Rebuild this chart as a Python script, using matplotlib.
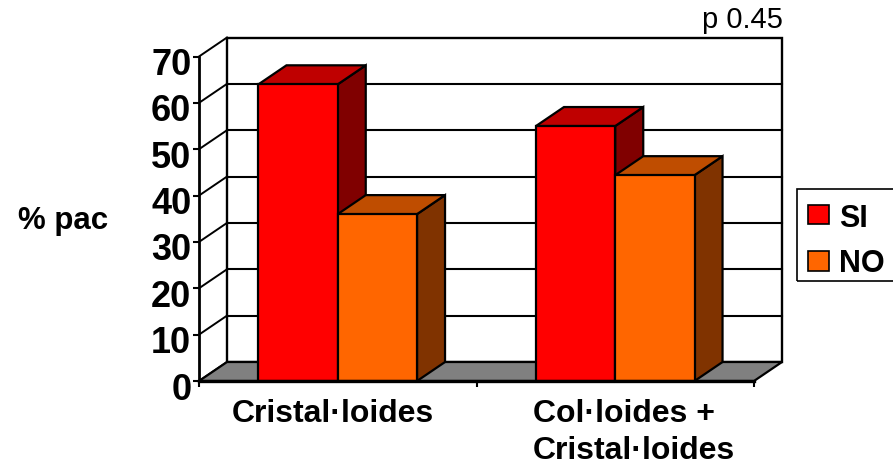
import matplotlib
matplotlib.use('Agg')
import matplotlib.pyplot as plt
from matplotlib.patches import Polygon, Rectangle
from matplotlib.transforms import ScaledTranslation

# ---------------- data ----------------
categories = ['Cristal·loides', 'Col·loides +\nCristal·loides']
series_names = ['SI', 'NO']
si_values = [64, 55]
no_values = [36, 44.4]
y_ticks = [0, 10, 20, 30, 40, 50, 60, 70]
y_label = '% pac'
annotation = 'p 0.45'

# ---------------- style ----------------
front_colors = ['#FF0000', '#FF6600']
top_colors = ['#BF0000', '#BF4D00']
side_colors = ['#800000', '#803300']
floor_color = '#808080'
label_shift_px = [-5, 19]

plt.rcParams['font.family'] = ['Liberation Sans', 'DejaVu Sans']

W, H = 893, 469
fig = plt.figure(figsize=(W / 100, H / 100), dpi=100)


def fx(px):
    return px / W


def fy(py):
    return 1 - py / H


ax = fig.add_axes([fx(199), fy(381), fx(754) - fx(199), fy(56.5) - fy(381)])
ax.set_xlim(0, len(categories))
ax.set_ylim(y_ticks[0], y_ticks[-1])

# depth offset (pixels -> data units)
depth_px_x, depth_px_y = 28, 19
ax_w_px = (fx(754) - fx(199)) * W
ax_h_px = (fy(56.5) - fy(381)) * H
DX = depth_px_x / ax_w_px * len(categories)
DY = depth_px_y / ax_h_px * (y_ticks[-1] - y_ticks[0])
ymax = y_ticks[-1]
ncat = len(categories)

# back wall
ax.add_patch(Rectangle((DX, DY), ncat, ymax, fc='white', ec='black', lw=1.7,
                       zorder=1, clip_on=False))
for v in y_ticks[1:-1]:
    ax.plot([DX, ncat + DX], [v + DY, v + DY], color='black', lw=1.5,
            zorder=2, clip_on=False)
# left wall diagonals
for v in y_ticks:
    ax.plot([0, DX], [v, v + DY], color='black', lw=1.4, zorder=2, clip_on=False)

# floor
ax.add_patch(Polygon([(0, 0), (ncat, 0), (ncat + DX, DY), (DX, DY)], closed=True,
                     fc=floor_color, ec='black', lw=1.6, zorder=3, clip_on=False))

# bars
nser = 2
w = 1 / (nser + 1.5)
series = [si_values, no_values]
for i in range(ncat):
    for j in range(nser):
        v = series[j][i]
        x0 = i + 0.75 * w + j * w
        z = 5 + i * 10 + j * 2
        # side face
        ax.add_patch(Polygon([(x0 + w, 0), (x0 + w + DX, DY), (x0 + w + DX, v + DY),
                              (x0 + w, v)], closed=True, fc=side_colors[j], ec='black',
                             lw=1.6, zorder=z, clip_on=False, joinstyle='miter'))
        # top face
        ax.add_patch(Polygon([(x0, v), (x0 + w, v), (x0 + w + DX, v + DY),
                              (x0 + DX, v + DY)], closed=True, fc=top_colors[j],
                             ec='black', lw=1.6, zorder=z, clip_on=False,
                             joinstyle='miter'))
        # front face
        ax.add_patch(Rectangle((x0, 0), w, v, fc=front_colors[j], ec='black',
                               lw=1.6, zorder=z + 1, clip_on=False, joinstyle='miter'))

# axes / spines
for s in ['top', 'right']:
    ax.spines[s].set_visible(False)
ax.spines['left'].set_linewidth(2)
ax.spines['bottom'].set_linewidth(2.4)
for s in ['left', 'bottom']:
    ax.spines[s].set_zorder(50)
ax.patch.set_visible(False)

ax.set_yticks(y_ticks)
ax.set_yticklabels([str(t) for t in y_ticks], fontsize=26, fontweight='bold')
ax.tick_params(axis='y', direction='out', length=4.5, width=1.5, pad=1)
offset = ScaledTranslation(0, -5 / 100, fig.dpi_scale_trans)
for lab in ax.get_yticklabels():
    lab.set_transform(lab.get_transform() + offset)

ax.set_xticks(range(ncat + 1))
ax.set_xticklabels([''] * (ncat + 1))
ax.tick_params(axis='x', which='major', direction='out', length=4.5, width=1.5)
ax.set_xticks([i + 0.5 for i in range(ncat)], minor=True)
ax.set_xticklabels(categories, minor=True, fontsize=23, fontweight='bold',
                   linespacing=1.32, multialignment='left')
ax.tick_params(axis='x', which='minor', length=0, pad=13)
for lab, sh in zip(ax.get_xticklabels(minor=True), label_shift_px):
    lab.set_transform(lab.get_transform() +
                      ScaledTranslation(sh / 100, 0, fig.dpi_scale_trans))

# y label and annotation
fig.text(fx(18), fy(229), y_label, fontsize=22.5, fontweight='bold', ha='left',
         va='baseline')
fig.text(fx(702), fy(28.5), annotation, fontsize=21, ha='left', va='baseline')

# legend (manual)
fig.add_artist(Rectangle((fx(797), fy(281)), fx(910) - fx(797), fy(189) - fy(281),
                         transform=fig.transFigure, fill=False, ec='black', lw=1.2))
legend_tops = [205, 251]
legend_base = [227, 272]
for j in range(nser):
    fig.add_artist(Rectangle((fx(808), fy(legend_tops[j] + 19.5)), fx(829) - fx(808),
                             fy(legend_tops[j]) - fy(legend_tops[j] + 19.5),
                             transform=fig.transFigure, fc=front_colors[j],
                             ec='black', lw=1.2))
    fig.text(fx(839), fy(legend_base[j]), series_names[j], fontsize=22,
             fontweight='bold', ha='left', va='baseline')

fig.savefig('out.png', dpi=100)
